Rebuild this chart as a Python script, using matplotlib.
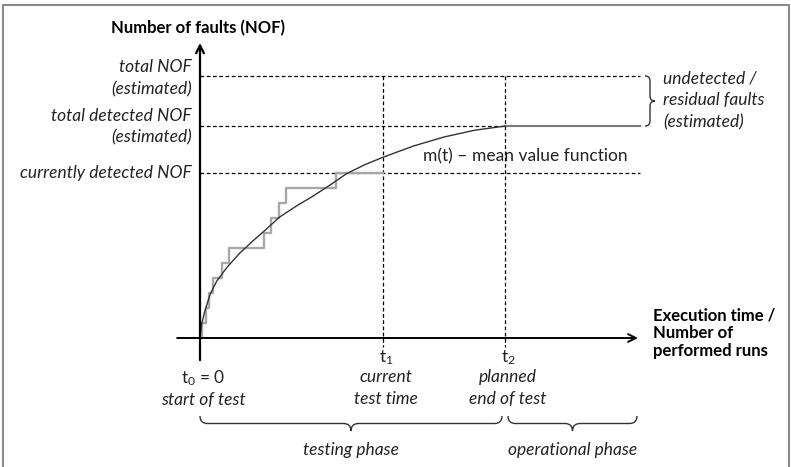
import matplotlib
matplotlib.use("Agg")
import matplotlib.pyplot as plt
from matplotlib.path import Path
from matplotlib.patches import PathPatch

plt.rcParams['font.family'] = ['Lato', 'DejaVu Sans']
plt.rcParams['mathtext.fontset'] = 'custom'
plt.rcParams['mathtext.rm'] = 'Lato'
plt.rcParams['mathtext.it'] = 'Lato:italic'

# time axis marks (t0 = 0)
T1 = 6.0
T2 = 10.0
T_END = 14.43

# number of faults levels
NOF_CURRENT = 11
NOF_DETECTED = 14.13
NOF_TOTAL = 17.47

# detected faults over time (step function)
step_t = [0, 0.06, 0.20, 0.30, 0.43, 0.72, 0.95, 2.10, 2.33, 2.59, 2.82, 4.46, T1]
step_n = [0, 1, 2, 3, 4, 5, 6, 7, 8, 9, 10, 11, 11]

# mean value function m(t)
curve_t = [0, 0.05, 0.16, 0.33, 0.55, 0.9, 1.3, 1.75, 2.2, 2.6, 3.2, 3.7, 4.3,
           4.8, 5.4, 6.0, 7.0, 8.0, 9.0, 10.0]
curve_m = [0, 0.9, 1.8, 2.9, 3.8, 4.75, 5.65, 6.5, 7.3, 8.05, 8.85, 9.45, 10.25,
           10.95, 11.55, 12.05, 12.8, 13.4, 13.85, 14.13]

# layout: pixels per unit, origin position in pixels
W, H = 791, 467
OX, OY = 200, 338
SX, SY = 30.5, 15.0

fig = plt.figure(figsize=(W / 100, H / 100), dpi=100)
ax = fig.add_axes([0, 0, 1, 1])
ax.set_xlim(-OX / SX, (W - OX) / SX)
ax.set_ylim((OY - H) / SY, OY / SY)
ax.axis('off')

# overlay in pixel coordinates for braces and frame
ov = fig.add_axes([0, 0, 1, 1], facecolor='none')
ov.set_xlim(0, W)
ov.set_ylim(H, 0)
ov.axis('off')


def px(t):
    return OX + t * SX


def py(n):
    return OY - n * SY


# axes arrows
ax.annotate('', xy=(14.36, 0), xytext=(-0.75, 0),
            arrowprops=dict(arrowstyle='->', lw=1.4, color='black',
                            shrinkA=0, shrinkB=0, mutation_scale=14))
ax.annotate('', xy=(0, 19.67), xytext=(0, -1.47),
            arrowprops=dict(arrowstyle='->', lw=1.6, color='black',
                            shrinkA=0, shrinkB=0, mutation_scale=14))

dash = dict(color='black', lw=0.9, dashes=(3, 2))
ax.plot([0, T_END], [NOF_TOTAL, NOF_TOTAL], **dash)
ax.plot([0, T2], [NOF_DETECTED, NOF_DETECTED], **dash)
ax.plot([0, T_END], [NOF_CURRENT, NOF_CURRENT], **dash)
ax.plot([T1, T1], [NOF_TOTAL, -0.6], **dash)
ax.plot([T2, T2], [NOF_TOTAL, -0.6], **dash)

ax.plot([T2, T_END], [NOF_DETECTED, NOF_DETECTED], color='#7a7a7a', lw=1.5)
ax.step(step_t, step_n, where='post', color='#a8a8a8', lw=1.7)
ax.plot(curve_t, curve_m, color='#333333', lw=1.0)

# texts
ax.text(-0.07, (OY - 28) / SY, 'Number of faults (NOF)', ha='center',
        va='center', fontsize=12, fontweight='bold')
fs = 12.5
lx = (192 - OX) / SX
for label, y in [('total NOF', 67), ('(estimated)', 89),
                 ('total detected NOF', 116), ('(estimated)', 137),
                 ('currently detected NOF', 173)]:
    ax.text(lx, (OY - y) / SY, label, ha='right', va='center',
            fontsize=fs, style='italic', color='#222222')

rx = (663 - OX) / SX
for label, y in [('undetected /', 78), ('residual faults', 100),
                 ('(estimated)', 122)]:
    ax.text(rx, (OY - y) / SY, label, ha='left', va='center',
            fontsize=fs, style='italic', color='#222222')

ax.text((423 - OX) / SX, (OY - 156) / SY, 'm(t) – mean value function',
        ha='left', va='center', fontsize=fs, color='#222222')

ax.text((653 - OX) / SX, (OY - 333) / SY,
        'Execution time /\nNumber of\nperformed runs', ha='left',
        va='center', fontsize=12, fontweight='bold', linespacing=1.15)

for t, lines in [(0.1, ['t$_0$ = 0', 'start of test']),
                 (T1 + 0.1, ['t$_1$', 'current', 'test time']),
                 (T2 + 0.1, ['t$_2$', 'planned', 'end of test'])]:
    ys = [378, 400] if len(lines) == 2 else [358, 377, 399]
    for s, y in zip(lines, ys):
        ax.text(t, (OY - y) / SY, s, ha='center', va='center', fontsize=fs,
                style='normal' if s.startswith('t$') else 'italic',
                color='#222222')

ax.text((351 - OX) / SX, (OY - 450) / SY, 'testing phase', ha='center',
        va='center', fontsize=fs, style='italic', color='#222222')
ax.text((573 - OX) / SX, (OY - 450) / SY, 'operational phase', ha='center',
        va='center', fontsize=fs, style='italic', color='#222222')


def hbrace(x0, x1, ytop, depth):
    h = depth / 2
    xm = (x0 + x1) / 2
    verts = [(x0, ytop), (x0, ytop + h), (x0 + h, ytop + h),
             (xm - h, ytop + h), (xm, ytop + h), (xm, ytop + depth),
             (xm, ytop + h), (xm + h, ytop + h),
             (x1 - h, ytop + h), (x1, ytop + h), (x1, ytop)]
    codes = [Path.MOVETO, Path.CURVE3, Path.CURVE3, Path.LINETO,
             Path.CURVE3, Path.CURVE3, Path.CURVE3, Path.CURVE3,
             Path.LINETO, Path.CURVE3, Path.CURVE3]
    ov.add_patch(PathPatch(Path(verts, codes), fill=False, lw=1.0,
                           color='#333333'))


def vbrace(xl, y0, y1, depth):
    h = depth / 2
    ym = (y0 + y1) / 2
    verts = [(xl, y0), (xl + h, y0), (xl + h, y0 + h),
             (xl + h, ym - h), (xl + h, ym), (xl + depth, ym),
             (xl + h, ym), (xl + h, ym + h),
             (xl + h, y1 - h), (xl + h, y1), (xl, y1)]
    codes = [Path.MOVETO, Path.CURVE3, Path.CURVE3, Path.LINETO,
             Path.CURVE3, Path.CURVE3, Path.CURVE3, Path.CURVE3,
             Path.LINETO, Path.CURVE3, Path.CURVE3]
    ov.add_patch(PathPatch(Path(verts, codes), fill=False, lw=1.0,
                           color='#333333'))


hbrace(px(0), px(T2) - 3, 416, 15)
hbrace(px(T2) + 3, 637, 416, 15)
vbrace(645, py(NOF_TOTAL), py(NOF_DETECTED), 10)

# frame
ov.plot([3, 3, 789, 789], [H + 5, 5, 5, H + 5], color='#8a8a8a', lw=1.5)

fig.savefig('out.png', dpi=100)
